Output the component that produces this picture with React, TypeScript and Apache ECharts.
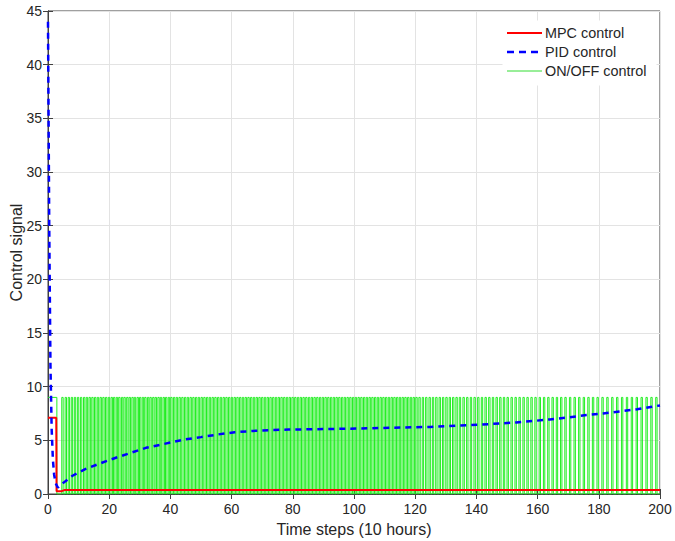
import React, { useEffect, useRef } from "react";
import * as echarts from "echarts";

// ---- Data ----
const mpcTime = [0, 2.7, 2.8, 4.3, 5.5, 200];
const mpcValue = [7.1, 7.1, 0.25, 0.25, 0.38, 0.38];

const pidTime = [
  0, 0.4, 0.8, 1.2, 1.6, 2.0, 2.5, 3.2, 4, 5.5, 8, 12, 17, 22.4, 32, 45, 50, 55.6, 61, 67,
  72.5, 78.5, 90, 101, 113, 125, 137, 147.7, 153, 158.5, 164, 170, 176, 181.4, 187, 192.5,
  197.7, 200,
];
const pidValue = [
  44, 25, 12, 6, 3.2, 1.8, 1.0, 0.6, 0.8, 1.15, 1.7, 2.3, 2.85, 3.4, 4.3, 5.1, 5.3, 5.55,
  5.75, 5.88, 5.95, 6.0, 6.05, 6.1, 6.17, 6.25, 6.4, 6.57, 6.67, 6.8, 6.95, 7.13, 7.35, 7.5,
  7.7, 7.9, 8.15, 8.25,
];

// ON/OFF control: level, initial ON period end, pulse start times and pulse duration
const onOffLevel = 9;
const onOffInitialEnd = 2.9;
const onOffPulseDuration = 0.45;
const onOffPulseStarts = [
  4.5, 5.6, 6.6, 7.6, 8.6, 9.6, 10.6, 11.6, 12.5, 13.4, 14.3, 15.2, 16.1, 17.0, 17.9, 18.8,
  19.7, 20.6, 21.4, 22.3, 23.1, 24.0, 24.8, 25.7, 26.5, 27.4, 28.2, 29.1, 29.9, 30.8, 31.6,
  32.5, 33.3, 34.2, 35.0, 35.9, 36.7, 37.6, 38.4, 39.3, 40.1, 41.0, 41.9, 42.8, 43.7, 44.6,
  45.5, 46.4, 47.3, 48.2, 49.1, 50.0, 50.9, 51.8, 52.7, 53.6, 54.5, 55.4, 56.3, 57.2, 58.1,
  59.0, 59.9, 60.8, 61.7, 62.6, 63.5, 64.4, 65.3, 66.2, 67.1, 68.0, 68.9, 69.8, 70.7, 71.6,
  72.5, 73.4, 74.3, 75.2, 76.1, 77.0, 77.9, 78.8, 79.7, 80.6, 81.5, 82.4, 83.3, 84.2, 85.1,
  86.0, 86.9, 87.8, 88.7, 89.6, 90.5, 91.4, 92.3, 93.2, 94.1, 95.0, 95.9, 96.8, 97.7, 98.6,
  99.5, 100.4, 101.3, 102.2, 103.1, 104.0, 104.9, 105.8, 106.7, 107.6, 108.5, 109.4, 110.3,
  111.2, 112.1, 113.0, 113.9, 114.8, 115.7, 116.6, 117.5, 118.4, 119.3, 120.2, 121.2, 122.3,
  123.4, 124.5, 125.6, 126.7, 127.8, 128.9, 130.0, 131.1, 132.2, 133.3, 134.4, 135.6, 136.8,
  138.0, 139.2, 140.4, 141.6, 142.8, 144.0, 145.2, 146.4, 147.6, 148.8, 150.0, 151.3, 152.6,
  153.9, 155.2, 156.5, 157.8, 159.1, 160.5, 161.9, 163.3, 164.7, 166.1, 167.5, 168.9, 170.4,
  171.9, 173.4, 174.9, 176.4, 177.9, 179.4, 181.0, 182.6, 184.2, 185.8, 187.4, 189.0, 190.6,
  192.2, 193.8, 195.4, 197.0, 198.6,
];

const seriesNames = ["MPC control", "PID control", "ON/OFF control"];
const xAxisTitle = "Time steps (10 hours)";
const yAxisTitle = "Control signal";

const FONT = "'Liberation Sans', Arial, Helvetica, sans-serif";
const TEXT = "#262626";
const AXIS = "#404040";
const GRIDC = "#e3e3e3";

export default function App() {
  const ref = useRef<HTMLDivElement>(null);

  useEffect(() => {
    if (!ref.current) return;
    const chart = echarts.init(ref.current, undefined, { renderer: "svg" });

    const mpcData = mpcTime.map((t, i) => [t, mpcValue[i]]);
    const pidData = pidTime.map((t, i) => [t, pidValue[i]]);
    const onOffData: number[][] = [
      [0, onOffLevel],
      [onOffInitialEnd, onOffLevel],
      [onOffInitialEnd, 0],
    ];
    onOffPulseStarts.forEach((s) => {
      onOffData.push([s, 0], [s, onOffLevel], [s + onOffPulseDuration, onOffLevel], [s + onOffPulseDuration, 0]);
    });
    onOffData.push([200, 0]);

    const tickLabel = { color: TEXT, fontFamily: FONT, fontSize: 14 };

    const legendStyles = [
      { stroke: "#ff0000", lineWidth: 2 },
      { stroke: "#0000ff", lineWidth: 2.5, lineDash: [7, 5] },
      { stroke: "#33dd33", lineWidth: 1 },
    ];
    const legendRowY = [33, 52, 71];
    const legendElements: any[] = [
      {
        type: "rect",
        shape: { x: 503, y: 21, width: 153, height: 64 },
        style: { fill: "#ffffff", stroke: "#ffffff" },
        z: 100,
      },
    ];
    seriesNames.forEach((name, i) => {
      legendElements.push({
        type: "line",
        shape: { x1: 507, y1: legendRowY[i], x2: 542, y2: legendRowY[i] },
        style: { ...legendStyles[i], fill: null },
        z: 101,
      });
      legendElements.push({
        type: "text",
        x: 545,
        y: legendRowY[i],
        style: {
          text: name,
          fill: TEXT,
          font: `14.4px ${FONT}`,
          textVerticalAlign: "middle",
          verticalAlign: "middle",
        },
        z: 101,
      });
    });

    chart.setOption({
      animation: false,
      backgroundColor: "#ffffff",
      grid: {
        left: 48,
        right: 15,
        top: 11,
        bottom: 47,
        containLabel: false,
        outerBoundsMode: "none",
        show: true,
        borderColor: AXIS,
        borderWidth: 1,
        backgroundColor: "#ffffff",
      },
      graphic: legendElements,
      xAxis: [
        {
          type: "value",
          min: 0,
          max: 200,
          interval: 20,
          name: xAxisTitle,
          nameLocation: "middle",
          nameGap: 27,
          nameMoveOverlap: false,
          nameTextStyle: { color: TEXT, fontFamily: FONT, fontSize: 16 },
          axisLine: { show: true, lineStyle: { color: AXIS } },
          axisTick: { show: true, inside: true, length: 5, lineStyle: { color: AXIS } },
          axisLabel: { ...tickLabel, margin: 8 },
          splitLine: { show: true, lineStyle: { color: GRIDC, width: 1 } },
        },
        {
          type: "value",
          position: "top",
          min: 0,
          max: 200,
          interval: 20,
          axisLine: { show: true, lineStyle: { color: AXIS } },
          axisTick: { show: true, inside: true, length: 5, lineStyle: { color: AXIS } },
          axisLabel: { show: false },
          splitLine: { show: false },
        },
      ],
      yAxis: [
        {
          type: "value",
          min: 0,
          max: 45,
          interval: 5,
          name: yAxisTitle,
          nameLocation: "middle",
          nameGap: 24,
          nameMoveOverlap: false,
          nameTextStyle: { color: TEXT, fontFamily: FONT, fontSize: 16 },
          axisLine: { show: true, lineStyle: { color: AXIS } },
          axisTick: { show: true, inside: true, length: 5, lineStyle: { color: AXIS } },
          axisLabel: { ...tickLabel, margin: 6 },
          splitLine: { show: true, lineStyle: { color: GRIDC, width: 1 } },
        },
        {
          type: "value",
          position: "right",
          min: 0,
          max: 45,
          interval: 5,
          axisLine: { show: true, lineStyle: { color: AXIS } },
          axisTick: { show: true, inside: true, length: 5, lineStyle: { color: AXIS } },
          axisLabel: { show: false },
          splitLine: { show: false },
        },
      ],
      series: [
        {
          name: seriesNames[2],
          type: "line",
          data: onOffData,
          symbol: "none",
          z: 2,
          lineStyle: { color: "#22ee22", width: 1 },
          itemStyle: { color: "#22ee22" },
        },
        {
          name: seriesNames[0],
          type: "line",
          data: mpcData,
          symbol: "none",
          z: 3,
          lineStyle: { color: "#ff0000", width: 2 },
          itemStyle: { color: "#ff0000" },
        },
        {
          name: seriesNames[1],
          type: "line",
          data: pidData,
          symbol: "none",
          z: 4,
          lineStyle: { color: "#0000ff", width: 2.5, type: [6, 5] },
          itemStyle: { color: "#0000ff" },
        },
      ],
    });

    return () => chart.dispose();
  }, []);

  return (
    <div
      ref={ref}
      style={{ position: "fixed", left: 0, top: 0, width: 675, height: 541, background: "#fff" }}
    />
  );
}
